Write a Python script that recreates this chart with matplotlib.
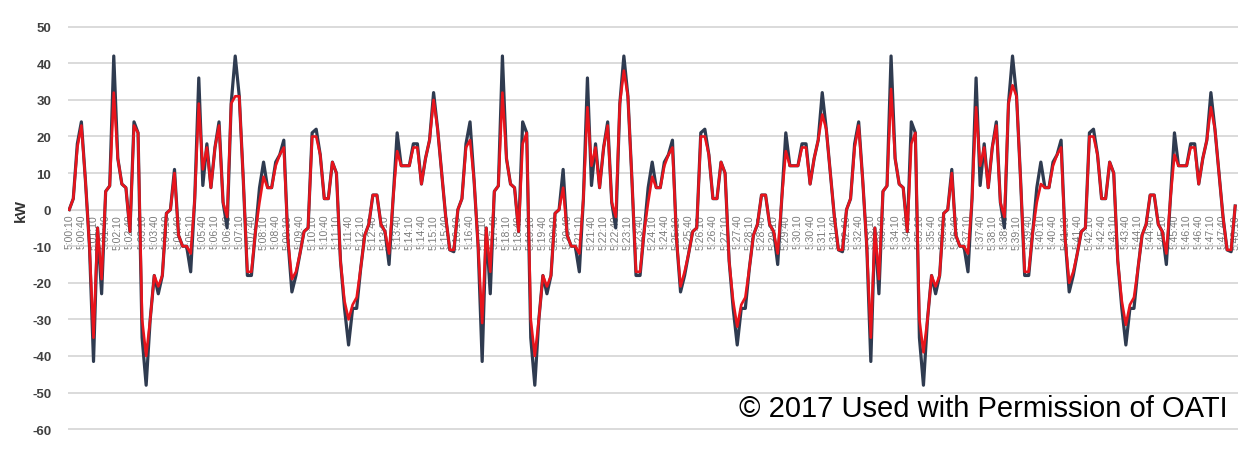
import matplotlib
matplotlib.use("Agg")
import matplotlib.pyplot as plt
from datetime import datetime, timedelta

# kW values (one sample per ~10 s), three daily-like cycles
azul = [
    0, 3, 18, 24, 8, -10, -41.5, -5, -23, 5, 6.5, 42,
    14, 7, 6, -6, 24, 21, -35, -48, -30, -18, -23, -18,
    -1, 0, 11, -7, -10, -10, -17, 3, 36, 6.6, 18, 6,
    17, 24, 2, -5, 29, 42, 31, 8, -18, -18, -6, 6,
    13, 6, 6, 13, 15, 19, -8, -22.5, -18, -12, -6, -5,
    21, 22, 15, 3, 3, 13, 10, -14, -27, -37, -27, -27,
    -16, -7, -4, 4, 4, -4, -6, -15, 3, 21, 12, 12,
    12, 18, 18, 7, 14, 19, 32, 22, 10, -2, -11, -11.5,
    0, 3, 18, 24, 8, -10, -41.5, -5, -23, 5, 6.5, 42,
    14, 7, 6, -6, 24, 21, -35, -48, -30, -18, -23, -18,
    -1, 0, 11, -7, -10, -10, -17, 3, 36, 6.6, 18, 6,
    17, 24, 2, -5, 29, 42, 31, 8, -18, -18, -6, 6,
    13, 6, 6, 13, 15, 19, -8, -22.5, -18, -12, -6, -5,
    21, 22, 15, 3, 3, 13, 10, -14, -27, -37, -27, -27,
    -16, -7, -4, 4, 4, -4, -6, -15, 3, 21, 12, 12,
    12, 18, 18, 7, 14, 19, 32, 22, 10, -2, -11, -11.5,
    0, 3, 18, 24, 8, -10, -41.5, -5, -23, 5, 6.5, 42,
    14, 7, 6, -6, 24, 21, -35, -48, -30, -18, -23, -18,
    -1, 0, 11, -7, -10, -10, -17, 3, 36, 6.6, 18, 6,
    17, 24, 2, -5, 29, 42, 31, 8, -18, -18, -6, 6,
    13, 6, 6, 13, 15, 19, -8, -22.5, -18, -12, -6, -5,
    21, 22, 15, 3, 3, 13, 10, -14, -27, -37, -27, -27,
    -16, -7, -4, 4, 4, -4, -6, -15, 3, 21, 12, 12,
    12, 18, 18, 7, 14, 19, 32, 22, 10, -2, -11, -11.5,
    1,
]

vermelho = [
    0, 3, 17, 23, 8, -10, -35, -5, -19, 5, 6.5, 32,
    14, 7, 6, -6, 23, 21, -30, -40, -30, -18, -21, -18,
    -1, 0, 10, -7, -10, -10, -12, 3, 29, 11, 17, 6,
    17, 23, 2, -2, 29, 31, 31, 8, -17, -17, -6, 2,
    9, 6, 6, 12, 15, 17, -8, -19, -17, -12, -6, -5,
    20, 20, 15, 3, 3, 13, 10, -14, -25, -30, -26, -24,
    -16, -7, -4, 4, 4, -4, -6, -12, 3, 16, 12, 12,
    12, 17, 17, 7, 14, 19, 30, 22, 10, -2, -11, -11,
    0, 3, 17, 19, 8, -10, -31, -5, -17, 5, 6.5, 32,
    14, 7, 6, -6, 18, 21, -30, -40, -30, -18, -21, -18,
    -1, 0, 6, -7, -10, -10, -12, 3, 28, 12, 17, 6,
    17, 23, 2, -2, 29, 38, 31, 8, -17, -17, -6, 2,
    9, 6, 6, 12, 15, 17, -8, -21, -17, -12, -6, -5,
    20, 20, 15, 3, 3, 13, 10, -14, -25, -32, -26, -24,
    -16, -7, -4, 4, 4, -4, -6, -12, 3, 16, 12, 12,
    12, 17, 17, 7, 14, 19, 26, 22, 10, -2, -11, -11,
    0, 3, 17, 23, 8, -10, -35, -5, -19, 5, 6.5, 33,
    14, 7, 6, -6, 18, 21, -30, -39, -30, -18, -21, -18,
    -1, 0, 10, -7, -10, -10, -12, 3, 28, 12, 17, 6,
    17, 23, 2, -2, 29, 34, 31, 8, -17, -17, -6, 2,
    7, 6, 6, 12, 15, 17, -8, -20, -17, -12, -6, -5,
    20, 20, 15, 3, 3, 13, 10, -14, -25, -31.5, -26, -24,
    -16, -7, -4, 4, 4, -4, -6, -12, 3, 15, 12, 12,
    12, 17, 17, 7, 14, 19, 28, 22, 10, -2, -11, -11,
    1,
]

# categorias (horario), rotulo a cada 3 amostras
inicio = datetime(2017, 1, 1, 5, 0, 10)
horarios = [(inicio + timedelta(seconds=10 * i)).strftime("%H:%M:%S").lstrip("0") for i in range(len(azul))]
passo_rotulo = 3
y_ticks = list(range(-60, 51, 10))
texto_copyright = "\u00a9 2017 Used with Permission of OATI"

plt.rcParams["font.family"] = ["Liberation Sans", "DejaVu Sans"]

fig = plt.figure(figsize=(12.48, 4.52), dpi=100)
ax = fig.add_axes([0.0545, 0.046, 0.9375, 0.895])

x = list(range(len(azul)))
ax.plot(x, azul, color="#2f3b50", lw=2.3, zorder=3)
ax.plot(x, vermelho, color="#e8141c", lw=1.9, zorder=4)

# eixo das categorias cruza em zero (antes de mexer nos rotulos, pois reseta os ticks)
ax.spines["bottom"].set_position(("data", 0))
ax.spines["bottom"].set_color("#d4d4d4")
for lado in ["top", "right", "left"]:
    ax.spines[lado].set_visible(False)

ax.set_ylim(-60.3, 50.3)
ax.set_xlim(-0.3, len(azul) - 1 + 0.7)
ax.set_yticks(y_ticks)
ax.set_yticklabels([str(v) for v in y_ticks], fontsize=9.5, fontweight="bold", color="#404040",
                   family=["Liberation Sans Narrow", "Liberation Sans"])
ax.yaxis.grid(True, color="#d4d4d4", lw=1.2, zorder=0)
ax.tick_params(axis="y", length=0, pad=12)

pos = x[::passo_rotulo]
ax.set_xticks(pos)
ax.set_xticklabels([horarios[i] for i in pos], rotation=90, fontsize=7.5, color="#7a7a7a")
ax.tick_params(axis="x", length=0, pad=3)

ax.set_ylabel("kW", fontsize=11, fontweight="bold", color="#333333")
ax.yaxis.set_label_coords(-0.034, 0.545)

ax.text(0.991, 0.054, texto_copyright, transform=ax.transAxes, ha="right", va="center",
        fontsize=21, color="black", zorder=5)

fig.savefig("out.png", dpi=100)
